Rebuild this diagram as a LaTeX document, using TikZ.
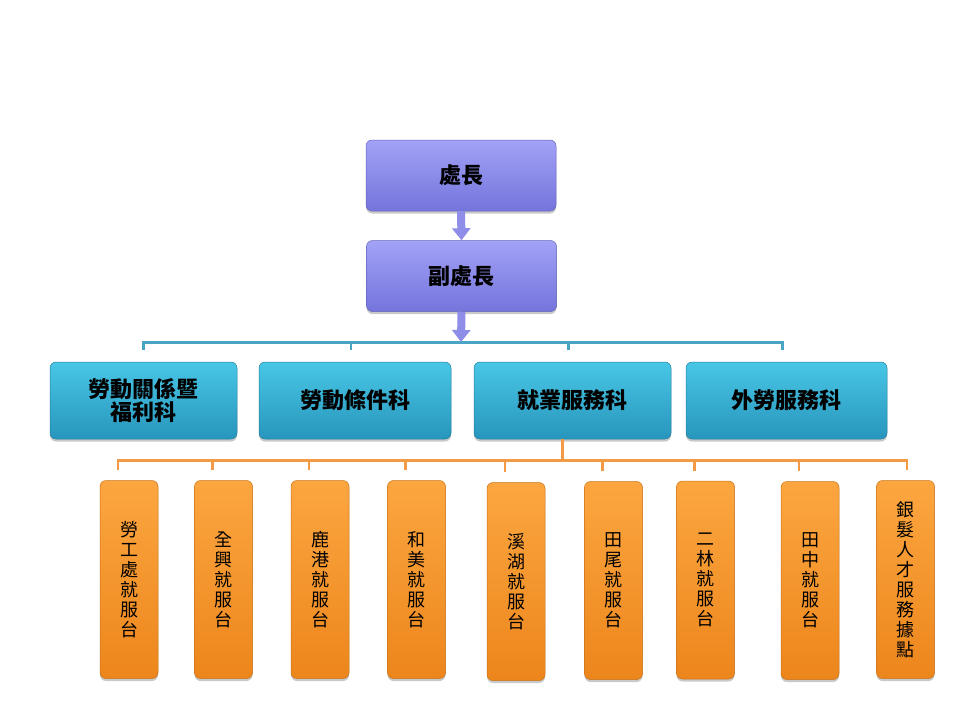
\documentclass[tikz,border=0pt]{standalone}
\usepackage{fontspec}
\setmainfont{Noto Sans CJK TC}
\usetikzlibrary{shadows,arrows.meta,calc}
\definecolor{purpT}{HTML}{A2A2F7}
\definecolor{purpB}{HTML}{7474DC}
\definecolor{tealT}{HTML}{48C6E6}
\definecolor{tealB}{HTML}{2896BC}
\definecolor{orT}{HTML}{FCA640}
\definecolor{orB}{HTML}{EC861C}
\definecolor{arrowc}{HTML}{8E8EE8}
\definecolor{tline}{HTML}{4AA4C4}
\definecolor{oline}{HTML}{F39A47}
\tikzset{
  basebox/.style={rectangle, rounded corners=6pt, inner sep=0pt, align=center, text=black,
    drop shadow={shadow xshift=0pt, shadow yshift=-2.5pt, opacity=0.35, fill=black!60}},
  lonebox/.style={basebox, minimum width=190pt, minimum height=71pt, top color=purpT, bottom color=purpB,
    draw=purpB!85!black, line width=0.5pt, font=\fontsize{22}{25}\selectfont\bfseries},
  ltwobox/.style={basebox, minimum height=77pt, top color=tealT, bottom color=tealB,
    draw=tealB!85!black, line width=0.5pt, font=\fontsize{22}{25}\selectfont\bfseries},
  lthreebox/.style={basebox, minimum width=58pt, minimum height=198pt, top color=orT, bottom color=orB,
    draw=orB!85!black, line width=0.5pt, font=\fontsize{18}{20}\selectfont},
  purparrow/.style={line width=8pt, arrowc, -{Triangle[width=18pt,length=12pt]}},
  tealcon/.style={line width=2.6pt, tline},
  orcon/.style={line width=2.6pt, oline}
}
\begin{document}
\begin{tikzpicture}[x=1pt,y=-1pt]
\useasboundingbox (0,0) rectangle (960,720);
\fill[white] (0,0) rectangle (960,720);
% level 1
\node[lonebox] (chief) at (461,175.5) {處長};
\node[lonebox] (deputy) at (461.5,276) {副處長};
% level 2
\node[ltwobox, minimum width=187pt] (s1) at (143.5,400.5) {勞動關係暨\\[-2pt]福利科};
\node[ltwobox, minimum width=192pt] (s2) at (355,400.5) {勞動條件科};
\node[ltwobox, minimum width=197pt] (s3) at (572.5,400.5) {就業服務科};
\node[ltwobox, minimum width=201pt] (s4) at (786.5,400.5) {外勞服務科};
% level 3
\node[lthreebox] (t1) at (129,579.5) {勞\\工\\處\\就\\服\\台};
\node[lthreebox] (t2) at (223.5,579.5) {全\\興\\就\\服\\台};
\node[lthreebox] (t3) at (320,579.5) {鹿\\港\\就\\服\\台};
\node[lthreebox] (t4) at (416.5,579.5) {和\\美\\就\\服\\台};
\node[lthreebox] (t5) at (516,581.5) {溪\\湖\\就\\服\\台};
\node[lthreebox] (t6) at (613.5,580.5) {田\\尾\\就\\服\\台};
\node[lthreebox] (t7) at (705.5,580) {二\\林\\就\\服\\台};
\node[lthreebox] (t8) at (810,580.5) {田\\中\\就\\服\\台};
\node[lthreebox] (t9) at (905.5,579.5) {銀\\髮\\人\\才\\服\\務\\據\\點};
% teal connectors
\coordinate (hub) at (461,342);
\draw[tealcon] ([yshift=12pt]s1.north) -- ([yshift=19pt]s1.north) -- ([xshift=-4pt,yshift=19pt]s4.north) -- ([xshift=-4pt,yshift=12pt]s4.north);
\draw[tealcon] ([xshift=-4pt,yshift=12pt]s2.north) -- ([xshift=-4pt,yshift=19pt]s2.north);
\draw[tealcon] ([xshift=-4pt,yshift=12pt]s3.north) -- ([xshift=-4pt,yshift=19pt]s3.north);
% purple arrows
\draw[purparrow] (chief.south) -- (deputy.north);
\draw[purparrow] (deputy.south) -- (hub);
% orange connectors
\coordinate (obar) at ($(s3.south)+(-10,22)$);
\draw[orcon] ([xshift=-10pt]s3.south) -- (obar);
\draw[orcon] ([xshift=-11pt,yshift=10pt]t1.north) -- ([xshift=-11pt,yshift=20pt]t1.north) -- ([xshift=1.5pt,yshift=20pt]t9.north) -- ([xshift=1.5pt,yshift=10pt]t9.north);
\foreach \n in {t2,t3,t4,t5,t6,t7,t8}{
  \draw[orcon] ([xshift=-11pt,yshift=10pt]\n.north) -- ([xshift=-11pt,yshift=20pt]\n.north);
}
\end{tikzpicture}
\end{document}
